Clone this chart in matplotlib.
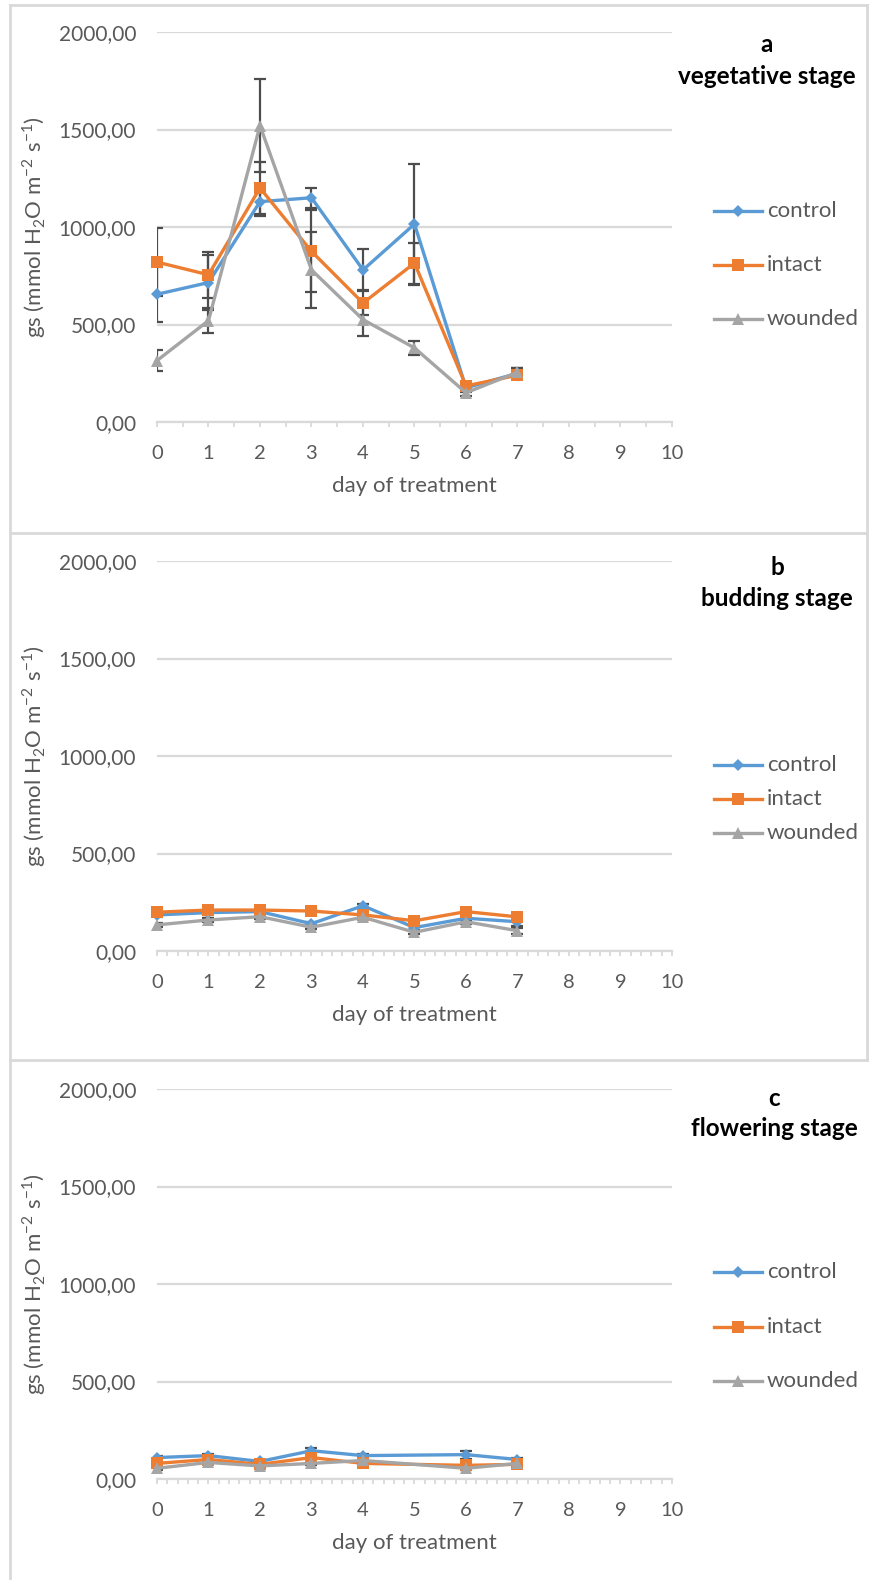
import numpy as np
import matplotlib
matplotlib.use("Agg")
import matplotlib.pyplot as plt
from matplotlib.lines import Line2D
from matplotlib.ticker import MultipleLocator, FuncFormatter

plt.rcParams['font.family'] = ['Lato', 'DejaVu Sans']
plt.rcParams['mathtext.fontset'] = 'custom'
plt.rcParams['mathtext.rm'] = 'Lato'

days = [0, 1, 2, 3, 4, 5, 6, 7]
series_names = ["control", "intact", "wounded"]
colors = ["#5B9BD5", "#ED7D31", "#A5A5A5"]
markers = ["D", "s", "^"]
marker_sizes = [6.5, 8, 8.5]

# a - vegetative stage
control_a = [655, 715, 1130, 1150, 780, 1015, 175, 250]
intact_a = [820, 755, 1200, 875, 610, 815, 185, 240]
wounded_a = [315, 520, 1520, 780, 525, 380, 150, 255]
control_err_a = [140, 140, 75, 50, 105, 310, 20, 25]
intact_err_a = [175, 118, 135, 210, 60, 105, 20, 20]
wounded_err_a = [55, 65, 237, 195, 85, 35, 15, 20]

# b - budding stage
control_b = [185, 197, 202, 140, 232, 120, 168, 150]
intact_b = [199, 210, 210, 205, 185, 155, 202, 175]
wounded_b = [134, 159, 176, 122, 173, 96, 150, 104]
control_err_b = [10, 10, 15, 10, 10, 10, 10, 20]
intact_err_b = [10, 10, 10, 10, 10, 10, 10, 10]
wounded_err_b = [10, 10, 10, 10, 10, 10, 10, 15]

# c - flowering stage (no reading on day 5)
control_c = [110, 120, 90, 145, 120, np.nan, 125, 100]
intact_c = [80, 100, 75, 110, 80, np.nan, 70, 75]
wounded_c = [55, 85, 67, 80, 95, np.nan, 55, 80]
control_err_c = [8, 8, 8, 15, 8, np.nan, 20, 8]
intact_err_c = [8, 8, 8, 10, 8, np.nan, 8, 8]
wounded_err_c = [8, 8, 8, 8, 8, np.nan, 8, 8]

W, H = 870, 1580
fig = plt.figure(figsize=(W / 100, H / 100), dpi=100)

grey_txt = "#595959"
grid_col = "#D9D9D9"


def fx(px):
    return px / W


def fy(py):
    return 1 - py / H


def comma_fmt(v, pos):
    return f"{v:.2f}".replace(".", ",")


def draw_panel(top, bottom, values, errors, letter, stage, title_xy, legend_ys, minor_step):
    ax = fig.add_axes([fx(157), fy(bottom), fx(672) - fx(157), (bottom - top) / H])
    x = np.array(days, dtype=float)
    for vals, errs, col, mk, ms, name in zip(values, errors, colors, markers, marker_sizes, series_names):
        y = np.array(vals, dtype=float)
        e = np.array(errs, dtype=float)
        ok = np.isfinite(y)
        ax.errorbar(x[ok], y[ok], yerr=e[ok], fmt='none', ecolor="#4D4D4D",
                    elinewidth=1.6, capsize=4, capthick=1.6, zorder=3)
        ax.plot(x[ok], y[ok], color=col, lw=2.4, marker=mk, ms=ms,
                markeredgewidth=0, zorder=4, clip_on=False)

    ax.set_xlim(0, 10)
    ax.set_ylim(0, 2000)
    ax.yaxis.set_major_locator(MultipleLocator(500))
    ax.yaxis.set_major_formatter(FuncFormatter(comma_fmt))
    ax.xaxis.set_major_locator(MultipleLocator(1))
    ax.xaxis.set_minor_locator(MultipleLocator(minor_step))
    ax.grid(axis='y', color=grid_col, lw=1.6, zorder=0)
    ax.set_axisbelow(True)
    for s in ["top", "right", "left"]:
        ax.spines[s].set_visible(False)
    ax.spines["bottom"].set_color(grid_col)
    ax.spines["bottom"].set_linewidth(1.6)
    ax.tick_params(axis='y', length=0, pad=15, labelsize=15, labelcolor=grey_txt)
    ax.tick_params(axis='x', which='major', length=3.5, width=1.3, color=grid_col,
                   pad=13, labelsize=14.5, labelcolor=grey_txt)
    ax.tick_params(axis='x', which='minor', length=3.5, width=1.3, color=grid_col)
    ax.set_facecolor("none")

    ax.set_xlabel("day of treatment", fontsize=16, color=grey_txt, labelpad=10)
    ax.set_ylabel(r"gs (mmol H$_2$O m$^{-2}$ s$^{-1}$)", fontsize=16, color=grey_txt, labelpad=8)

    fig.text(fx(title_xy[0]), fy(title_xy[1]), letter, ha='center', va='center',
             fontsize=17.5, fontweight='bold', color='black')
    fig.text(fx(title_xy[0]), fy(title_xy[1] + 31), stage, ha='center', va='center',
             fontsize=17.5, fontweight='bold', color='black')

    for ly, col, mk, ms, name in zip(legend_ys, colors, markers, marker_sizes, series_names):
        fig.add_artist(Line2D([fx(714), fx(762)], [fy(ly), fy(ly)], color=col, lw=2.4))
        fig.add_artist(Line2D([fx(738)], [fy(ly)], color=col, marker=mk, ms=ms,
                              markeredgewidth=0, lw=0))
        fig.text(fx(767), fy(ly), name, ha='left', va='center', fontsize=16, color=grey_txt)
    return ax


draw_panel(32, 422, [control_a, intact_a, wounded_a],
           [control_err_a, intact_err_a, wounded_err_a],
           "a", "vegetative stage", (767, 45), [211, 265, 319], 0.5)
draw_panel(561, 951, [control_b, intact_b, wounded_b],
           [control_err_b, intact_err_b, wounded_err_b],
           "b", "budding stage", (777, 568), [765, 799, 833], 0.2)
draw_panel(1089, 1479, [control_c, intact_c, wounded_c],
           [control_err_c, intact_err_c, wounded_err_c],
           "c", "flowering stage", (774, 1098), [1272, 1327, 1381], 0.2)

# panel frames
frame = dict(color=grid_col, lw=2)
fig.add_artist(Line2D([fx(10), fx(10)], [fy(5), fy(1580)], **frame))
fig.add_artist(Line2D([fx(867), fx(867)], [fy(5), fy(1060)], **frame))
for yy in [5, 533, 1060]:
    fig.add_artist(Line2D([fx(10), fx(870)], [fy(yy), fy(yy)], **frame))

fig.savefig("out.png", dpi=100, facecolor="white")
